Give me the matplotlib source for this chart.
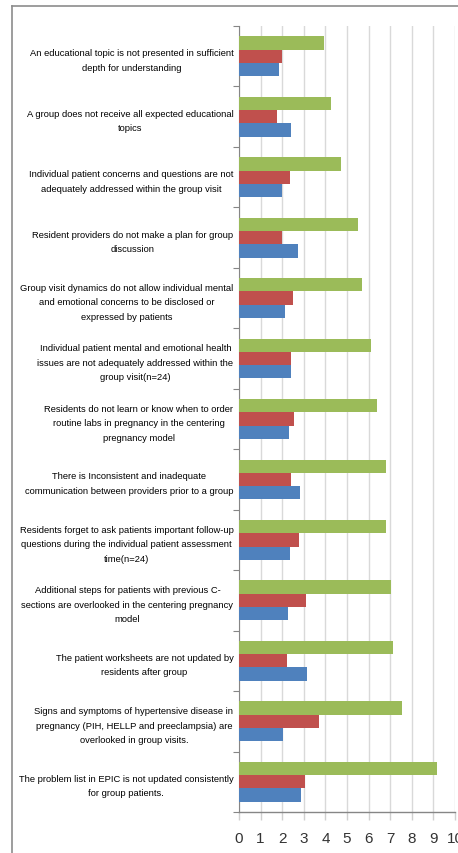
import numpy as np
import matplotlib
matplotlib.use('Agg')
import matplotlib.pyplot as plt
from matplotlib.lines import Line2D

# category labels, top to bottom
labels = [
    "An educational topic is not presented in sufficient\ndepth for understanding",
    "A group does not receive all expected educational\ntopics",
    "Individual patient concerns and questions are not\nadequately addressed within the group visit",
    "Resident providers do not make a plan for group\ndiscussion",
    "Group visit dynamics do not allow individual mental\nand emotional concerns to be disclosed or\nexpressed by patients",
    "Individual patient mental and emotional health\nissues are not adequately addressed within the\ngroup visit(n=24)",
    "Residents do not learn or know when to order\nroutine labs in pregnancy in the centering\npregnancy model",
    "There is Inconsistent and inadequate\ncommunication between providers prior to a group",
    "Residents forget to ask patients important follow-up\nquestions during the individual patient assessment\ntime(n=24)",
    "Additional steps for patients with previous C-\nsections are overlooked in the centering pregnancy\nmodel",
    "The patient worksheets are not updated by\nresidents after group",
    "Signs and symptoms of hypertensive disease in\npregnancy (PIH, HELLP and preeclampsia) are\noverlooked in group visits.",
    "The problem list in EPIC is not updated consistently\nfor group patients.",
]

blue = [1.87, 2.39, 1.97, 2.75, 2.11, 2.42, 2.31, 2.84, 2.38, 2.25, 3.16, 2.04, 2.88]
red = [2.00, 1.77, 2.35, 1.97, 2.51, 2.42, 2.56, 2.41, 2.79, 3.09, 2.24, 3.70, 3.07]
green = [3.95, 4.27, 4.71, 5.52, 5.71, 6.13, 6.39, 6.79, 6.81, 7.04, 7.15, 7.56, 9.18]

xticks = [0, 1, 2, 3, 4, 5, 6, 7, 8, 9, 10]

plt.rcParams['font.family'] = ['Liberation Sans', 'DejaVu Sans']

W, H = 458, 854
fig = plt.figure(figsize=(W / 100, H / 100), dpi=100)
ax = fig.add_axes([239 / W, 1 - 813 / H, (455 - 239) / W, (813 - 27) / H])

y = np.arange(len(labels))
h = 0.22
ax.barh(y + h, blue, height=h, color='#4F81BD', zorder=3)
ax.barh(y, red, height=h, color='#C0504D', zorder=3)
ax.barh(y - h, green, height=h, color='#9BBB59', zorder=3)

ax.set_xlim(0, 10)
ax.set_ylim(len(labels) - 0.5, -0.5)
ax.set_xticks(xticks)
ax.set_xticklabels([str(t) for t in xticks], fontsize=11, color='#333333')

# fit label size so the longest line is about as wide as in the reference
fig.canvas.draw()
r = fig.canvas.get_renderer()
widest = 0
for lab in labels:
    for line in lab.split('\n'):
        t = fig.text(0, 0, line, fontsize=10)
        widest = max(widest, t.get_window_extent(r).width)
        t.remove()
fs = 10 * 216 / widest

ax.set_yticks(y)
ax.set_yticklabels(labels, fontsize=fs, color='black', linespacing=1.8)
for lab in ax.get_yticklabels():
    lab.set_multialignment('center')
ax.set_yticks(np.arange(len(labels) + 1) - 0.5, minor=True)
ax.tick_params(axis='y', which='major', length=0, pad=4)
ax.tick_params(axis='y', which='minor', length=4, color='#868686', width=0.8)
ax.tick_params(axis='x', length=6, color='#d0d0d0', width=1, pad=8)

ax.grid(axis='x', color='#d9d9d9', linewidth=1.0, zorder=0)
for s in ['top', 'right']:
    ax.spines[s].set_visible(False)
ax.spines['left'].set_color('#868686')
ax.spines['bottom'].set_color('#868686')
ax.spines['left'].set_linewidth(0.8)
ax.spines['bottom'].set_linewidth(1.0)

# outer chart border
fig.add_artist(Line2D([12 / W, 12 / W], [0, 1 - 7 / H], color='#8c8c8c', linewidth=1.2, transform=fig.transFigure))
fig.add_artist(Line2D([12 / W, 1], [1 - 7 / H, 1 - 7 / H], color='#8c8c8c', linewidth=1.2, transform=fig.transFigure))

fig.savefig('out.png', dpi=100, facecolor='white')
